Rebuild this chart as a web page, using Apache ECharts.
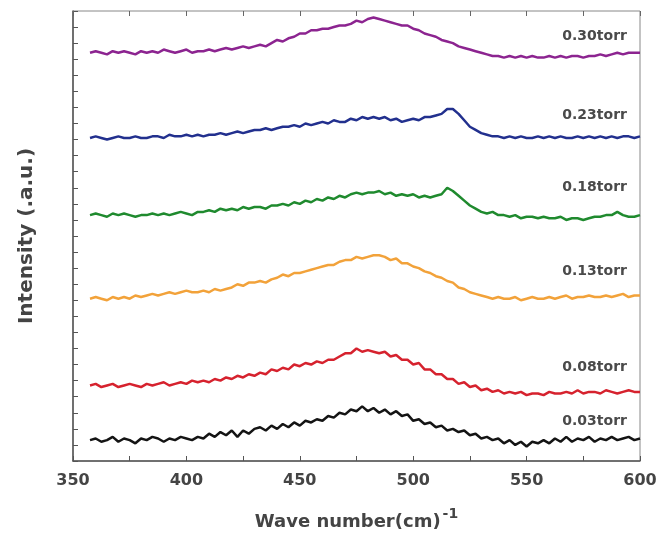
<!DOCTYPE html>
<html>
<head>
<meta charset="utf-8">
<script src="https://cdn.jsdelivr.net/npm/echarts@6/dist/echarts.min.js"></script>
<style>
  html, body { margin: 0; padding: 0; background: #fff; }
  #chart { width: 672px; height: 540px; }
</style>
</head>
<body>
<div id="chart"></div>
<script>
// Raman shift axis (cm^-1), shared by every spectrum
const wavenumber = [
  357.5, 360, 362.5, 365, 367.5, 370, 372.5, 375, 377.5, 380,
  382.5, 385, 387.5, 390, 392.5, 395, 397.5, 400, 402.5, 405,
  407.5, 410, 412.5, 415, 417.5, 420, 422.5, 425, 427.5, 430,
  432.5, 435, 437.5, 440, 442.5, 445, 447.5, 450, 452.5, 455,
  457.5, 460, 462.5, 465, 467.5, 470, 472.5, 475, 477.5, 480,
  482.5, 485, 487.5, 490, 492.5, 495, 497.5, 500, 502.5, 505,
  507.5, 510, 512.5, 515, 517.5, 520, 522.5, 525, 527.5, 530,
  532.5, 535, 537.5, 540, 542.5, 545, 547.5, 550, 552.5, 555,
  557.5, 560, 562.5, 565, 567.5, 570, 572.5, 575, 577.5, 580,
  582.5, 585, 587.5, 590, 592.5, 595, 597.5, 600
];

// Deposition pressures
const pressures = ['0.03torr', '0.08torr', '0.13torr', '0.18torr', '0.23torr', '0.30torr'];

// Stacked intensities (a.u., vertically offset)
const torr003 = [
  13, 14, 12, 13, 15, 12, 14, 13, 11, 14,
  13, 15, 14, 12, 14, 13, 15, 14, 13, 15,
  14, 17, 15, 18, 16, 19, 15, 19, 17, 20,
  21, 19, 22, 20, 23, 21, 24, 22, 25, 24,
  26, 25, 28, 27, 30, 29, 32, 31, 34, 31,
  33, 30, 32, 29, 31, 28, 29, 25, 26, 23,
  24, 21, 22, 19, 20, 18, 19, 16, 17, 14,
  15, 13, 14, 11, 13, 10, 12, 9, 12, 11,
  13, 11, 14, 12, 15, 12, 14, 13, 15, 12,
  14, 13, 15, 13, 14, 15, 13, 14
];
const torr008 = [
  47, 48, 46, 47, 48, 46, 47, 48, 47, 46,
  48, 47, 48, 49, 47, 48, 49, 48, 50, 49,
  50, 49, 51, 50, 52, 51, 53, 52, 54, 53,
  55, 54, 57, 56, 58, 57, 60, 59, 61, 60,
  62, 61, 63, 63, 65, 67, 67, 70, 68, 69,
  68, 67, 68, 65, 66, 63, 63, 60, 61, 57,
  57, 54, 54, 51, 51, 48, 49, 46, 47, 44,
  45, 43, 44, 42, 43, 42, 43, 41, 42, 42,
  41, 43, 42, 42, 43, 42, 44, 42, 43, 43,
  42, 44, 43, 42, 43, 44, 43, 43
];
const torr013 = [
  101, 102, 101, 100, 102, 101, 102, 101, 103, 102,
  103, 104, 103, 104, 105, 104, 105, 106, 105, 105,
  106, 105, 107, 106, 107, 108, 110, 109, 111, 111,
  112, 111, 113, 114, 116, 115, 117, 117, 118, 119,
  120, 121, 122, 122, 124, 125, 125, 127, 126, 127,
  128, 128, 127, 125, 126, 123, 123, 121, 120, 118,
  117, 115, 114, 112, 111, 108, 107, 105, 104, 103,
  102, 101, 102, 101, 101, 102, 100, 101, 102, 101,
  101, 102, 101, 102, 103, 101, 102, 102, 103, 102,
  102, 103, 102, 103, 104, 102, 103, 103
];
const torr018 = [
  153, 154, 153, 152, 154, 153, 154, 153, 152, 153,
  153, 154, 153, 154, 153, 154, 155, 154, 153, 155,
  155, 156, 155, 157, 156, 157, 156, 158, 157, 158,
  158, 157, 159, 159, 160, 159, 161, 160, 162, 161,
  163, 162, 164, 163, 165, 164, 166, 167, 166, 167,
  167, 168, 166, 167, 165, 166, 165, 166, 164, 165,
  164, 165, 166, 170, 168, 165, 162, 159, 157, 155,
  154, 155, 153, 153, 152, 153, 151, 152, 152, 151,
  152, 151, 151, 152, 150, 151, 151, 150, 151, 152,
  152, 153, 153, 155, 153, 152, 152, 153
];
const torr023 = [
  201, 202, 201, 200, 201, 202, 201, 201, 202, 201,
  201, 202, 202, 201, 203, 202, 202, 203, 202, 203,
  202, 203, 203, 204, 203, 204, 205, 204, 205, 206,
  206, 207, 206, 207, 208, 208, 209, 208, 210, 209,
  210, 211, 210, 212, 211, 211, 213, 212, 214, 213,
  214, 213, 214, 212, 213, 211, 212, 213, 212, 214,
  214, 215, 216, 219, 219, 216, 212, 208, 206, 204,
  203, 202, 202, 201, 202, 201, 202, 201, 201, 202,
  201, 202, 201, 202, 201, 201, 202, 201, 202, 201,
  202, 201, 202, 201, 202, 202, 201, 202
];
const torr030 = [
  254, 255, 254, 253, 255, 254, 255, 254, 253, 255,
  254, 255, 254, 256, 255, 254, 255, 256, 254, 255,
  255, 256, 255, 256, 257, 256, 257, 258, 257, 258,
  259, 258, 260, 262, 261, 263, 264, 266, 266, 268,
  268, 269, 269, 270, 271, 271, 272, 274, 273, 275,
  276, 275, 274, 273, 272, 271, 271, 269, 268, 266,
  265, 264, 262, 261, 260, 258, 257, 256, 255, 254,
  253, 252, 252, 251, 252, 251, 252, 251, 252, 251,
  251, 252, 251, 252, 251, 252, 252, 251, 252, 252,
  253, 252, 253, 254, 253, 254, 254, 254
];

const spectra = [torr003, torr008, torr013, torr018, torr023, torr030];
const lineColors = ['#141414', '#d6222e', '#f2a23a', '#1f8a2e', '#22308e', '#8c2490'];
// height of each pressure tag (same units as the intensities)
const tagLevel = [24.5, 58.5, 118, 170.5, 215, 264];

const FONT = '"DejaVu Sans", Verdana, sans-serif';
const TEXT = '#444';

const series = spectra.map((vals, i) => ({
  name: pressures[i],
  type: 'line',
  data: wavenumber.map((w, k) => [w, vals[k]]),
  showSymbol: false,
  symbol: 'none',
  lineStyle: { color: lineColors[i], width: 2.5 },
  itemStyle: { color: lineColors[i] },
  z: 3,
  animation: false,
  markPoint: {
    symbol: 'circle',
    symbolSize: 0,
    silent: true,
    animation: false,
    itemStyle: { color: 'rgba(0,0,0,0)' },
    label: {
      show: true,
      position: 'inside',
      formatter: pressures[i],
      fontFamily: FONT,
      fontWeight: 'bold',
      fontSize: 14,
      color: '#4a4a4a'
    },
    data: [{ coord: [580, tagLevel[i]] }]
  }
}));

const chart = echarts.init(document.getElementById('chart'), null, { renderer: 'canvas' });

chart.setOption({
  backgroundColor: '#fff',
  animation: false,
  grid: {
    left: 73, right: 32, top: 11, bottom: 79,
    show: true, borderColor: '#888', borderWidth: 1, backgroundColor: 'transparent'
  },
  xAxis: [{
    type: 'value',
    min: 350, max: 600, interval: 50,
    position: 'bottom',
    name: '{m|Wave number(cm)}{s|-1}',
    nameLocation: 'middle',
    nameGap: 46,
    nameTextStyle: {
      rich: {
        m: { fontFamily: FONT, fontWeight: 'bold', fontSize: 18, color: TEXT, verticalAlign: 'bottom' },
        s: { fontFamily: FONT, fontWeight: 'bold', fontSize: 14, color: TEXT, verticalAlign: 'bottom', padding: [0, 0, 10, 2] }
      }
    },
    axisLine: { show: true, lineStyle: { color: '#555', width: 1.5 } },
    axisTick: { show: true, inside: true, length: 5, lineStyle: { color: '#555' } },
    minorTick: { show: true, splitNumber: 2, length: 5, lineStyle: { color: '#555' } },
    splitLine: { show: false },
    minorSplitLine: { show: false },
    axisLabel: { fontFamily: FONT, fontWeight: 'bold', fontSize: 16, color: TEXT, margin: 12 }
  }, {
    type: 'value',
    min: 350, max: 600, interval: 50,
    position: 'top',
    axisLine: { show: false },
    axisTick: { show: true, inside: true, length: 5, lineStyle: { color: '#666' } },
    minorTick: { show: true, splitNumber: 2, length: 5, lineStyle: { color: '#666' } },
    splitLine: { show: false },
    axisLabel: { show: false }
  }],
  yAxis: {
    type: 'value',
    min: 0, max: 280, interval: 10,
    name: 'Intensity (.a.u.)',
    nameLocation: 'middle',
    nameGap: 36,
    nameTextStyle: { fontFamily: FONT, fontWeight: 'bold', fontSize: 20, color: TEXT },
    axisLine: { show: true, lineStyle: { color: '#555', width: 1.5 } },
    axisTick: { show: true, inside: true, length: 5, lineStyle: { color: '#555' } },
    splitLine: { show: false },
    axisLabel: { show: false }
  },
  series: series
});
</script>
</body>
</html>
